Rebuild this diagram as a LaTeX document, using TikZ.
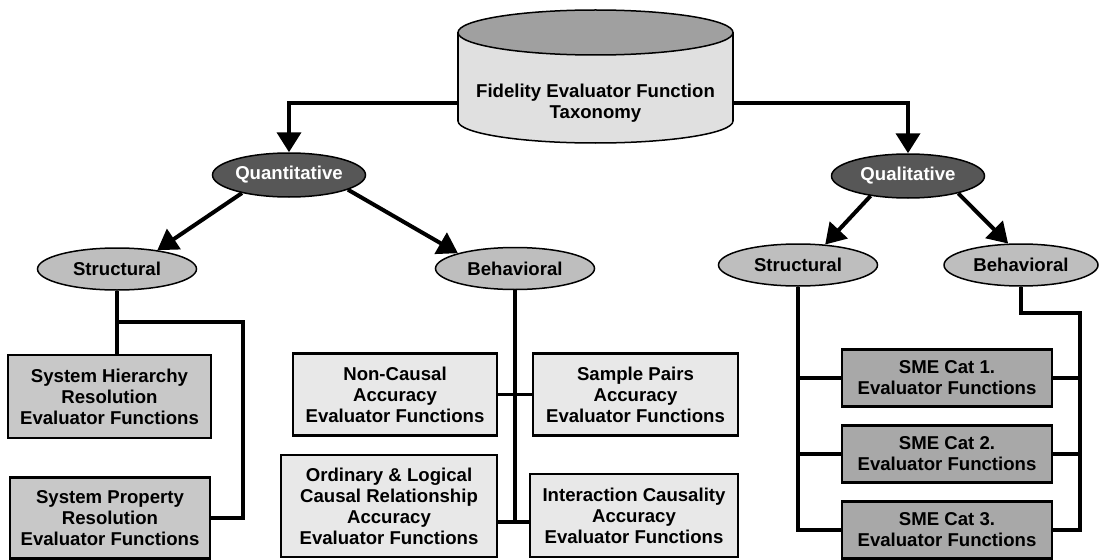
\documentclass[tikz,border=0pt]{standalone}
\usepackage{fontspec}
\setmainfont{Liberation Sans}
\usepackage{xcolor}
\usepackage{tikz}
\usetikzlibrary{arrows.meta,shapes.geometric}

\definecolor{catdark}{HTML}{575757}
\definecolor{catgray}{HTML}{BEBEBE}
\definecolor{strgray}{HTML}{C8C8C8}
\definecolor{behgray}{HTML}{E8E8E8}
\definecolor{smegray}{HTML}{A8A8A8}
\definecolor{drumtop}{HTML}{A0A0A0}
\definecolor{drumbody}{HTML}{E0E0E0}

\begin{document}
\begin{tikzpicture}[x=1pt,y=-1pt,
  every node/.style={font=\fontsize{18.6}{21}\selectfont\bfseries, align=center, inner sep=0pt},
  topcat/.style={ellipse, draw, line width=1.5pt, fill=catdark, text=white, minimum width=153pt, minimum height=44pt},
  subcat/.style={ellipse, draw, line width=1.5pt, fill=catgray, minimum width=159pt, minimum height=42pt},
  strbox/.style={rectangle, draw, line width=2.2pt, fill=strgray},
  behbox/.style={rectangle, draw, line width=2.2pt, fill=behgray},
  smebox/.style={rectangle, draw, line width=2.2pt, fill=smegray, minimum width=210pt, minimum height=57pt},
  arr/.style={line width=4pt, -{Triangle[length=20pt, width=24pt]}},
  link/.style={line width=3.5pt}]
\useasboundingbox (0,0) rectangle (1099,559);

% Drum
\filldraw[line width=1.5pt, fill=drumbody] (595.5,121) ellipse [x radius=137.5, y radius=22];
\fill[drumbody] (458,32.5) rectangle (733,121);
\draw[line width=1.5pt] (458,32.5) -- (458,121) (733,32.5) -- (733,121);
\filldraw[line width=1.5pt, fill=drumtop] (595.5,32.5) ellipse [x radius=137.5, y radius=22.5];
\node[minimum width=275pt] (fe) at (595.5,103) {Fidelity Evaluator Function\\Taxonomy};

% Categories
\node[topcat] (qn) at (289,175) {Quantitative};
\node[topcat] (ql) at (908,176) {Qualitative};
\node[subcat] (ls) at (117,269) {Structural};
\node[subcat] (lb) at (515,268.5) {Behavioral};
\node[subcat] (rs) at (798,265) {Structural};
\node[subcat, minimum width=154pt] (rb) at (1021,265) {Behavioral};

% Boxes
\node[strbox, minimum width=203pt, minimum height=83pt] (sh) at (109.5,396.5) {System Hierarchy\\Resolution\\Evaluator Functions};
\node[strbox, minimum width=200pt, minimum height=81pt] (spr) at (110,518) {System Property\\Resolution\\Evaluator Functions};
\node[behbox, minimum width=204pt, minimum height=82pt] (nc) at (395,394.5) {Non-Causal\\Accuracy\\Evaluator Functions};
\node[behbox, minimum width=205pt, minimum height=82pt] (sa) at (635.5,394.5) {Sample Pairs\\Accuracy\\Evaluator Functions};
\node[behbox, minimum width=216pt, minimum height=102pt] (ol) at (389,506) {Ordinary \& Logical\\Causal Relationship\\Accuracy\\Evaluator Functions};
\node[behbox, minimum width=208pt, minimum height=83pt] (ic) at (634,515.5) {Interaction Causality\\Accuracy\\Evaluator Functions};
\node[smebox] (c1) at (947,378) {SME Cat 1.\\Evaluator Functions};
\node[smebox] (c2) at (947,454) {SME Cat 2.\\Evaluator Functions};
\node[smebox] (c3) at (947,530) {SME Cat 3.\\Evaluator Functions};

% Arrows
\draw[arr] (fe.west) -| (qn);
\draw[arr] (fe.east) -| (ql);
\draw[arr] (qn.201) -- (ls.25);
\draw[arr] (qn.-14) -- (lb.165);
\draw[arr] (ql.208) -- (rs.37);
\draw[arr] (ql.-19) -- (rb.121);

% Links
\coordinate (lsj) at (117,322);
\coordinate (lsr) at (243,322);
\draw[link] (ls.south) -- (ls.south |- sh.north);
\draw[link] (lsj) -- (lsr) |- (spr.east);

\coordinate (mjb) at (515,522);
\draw[link] (lb) -- (mjb);
\draw[link] (nc) -- (sa);
\draw[link] (ol.east |- mjb) -- (ic.west |- mjb);

\coordinate (rbj) at (1080,313);
\draw[link] (rs) |- (c3);
\draw[link] (rs |- c1) -- (c1);
\draw[link] (rs |- c2) -- (c2);
\draw[link] (rb) |- (rbj) |- (c3);
\draw[link] (rbj |- c1) -- (c1);
\draw[link] (rbj |- c2) -- (c2);
\end{tikzpicture}
\end{document}
